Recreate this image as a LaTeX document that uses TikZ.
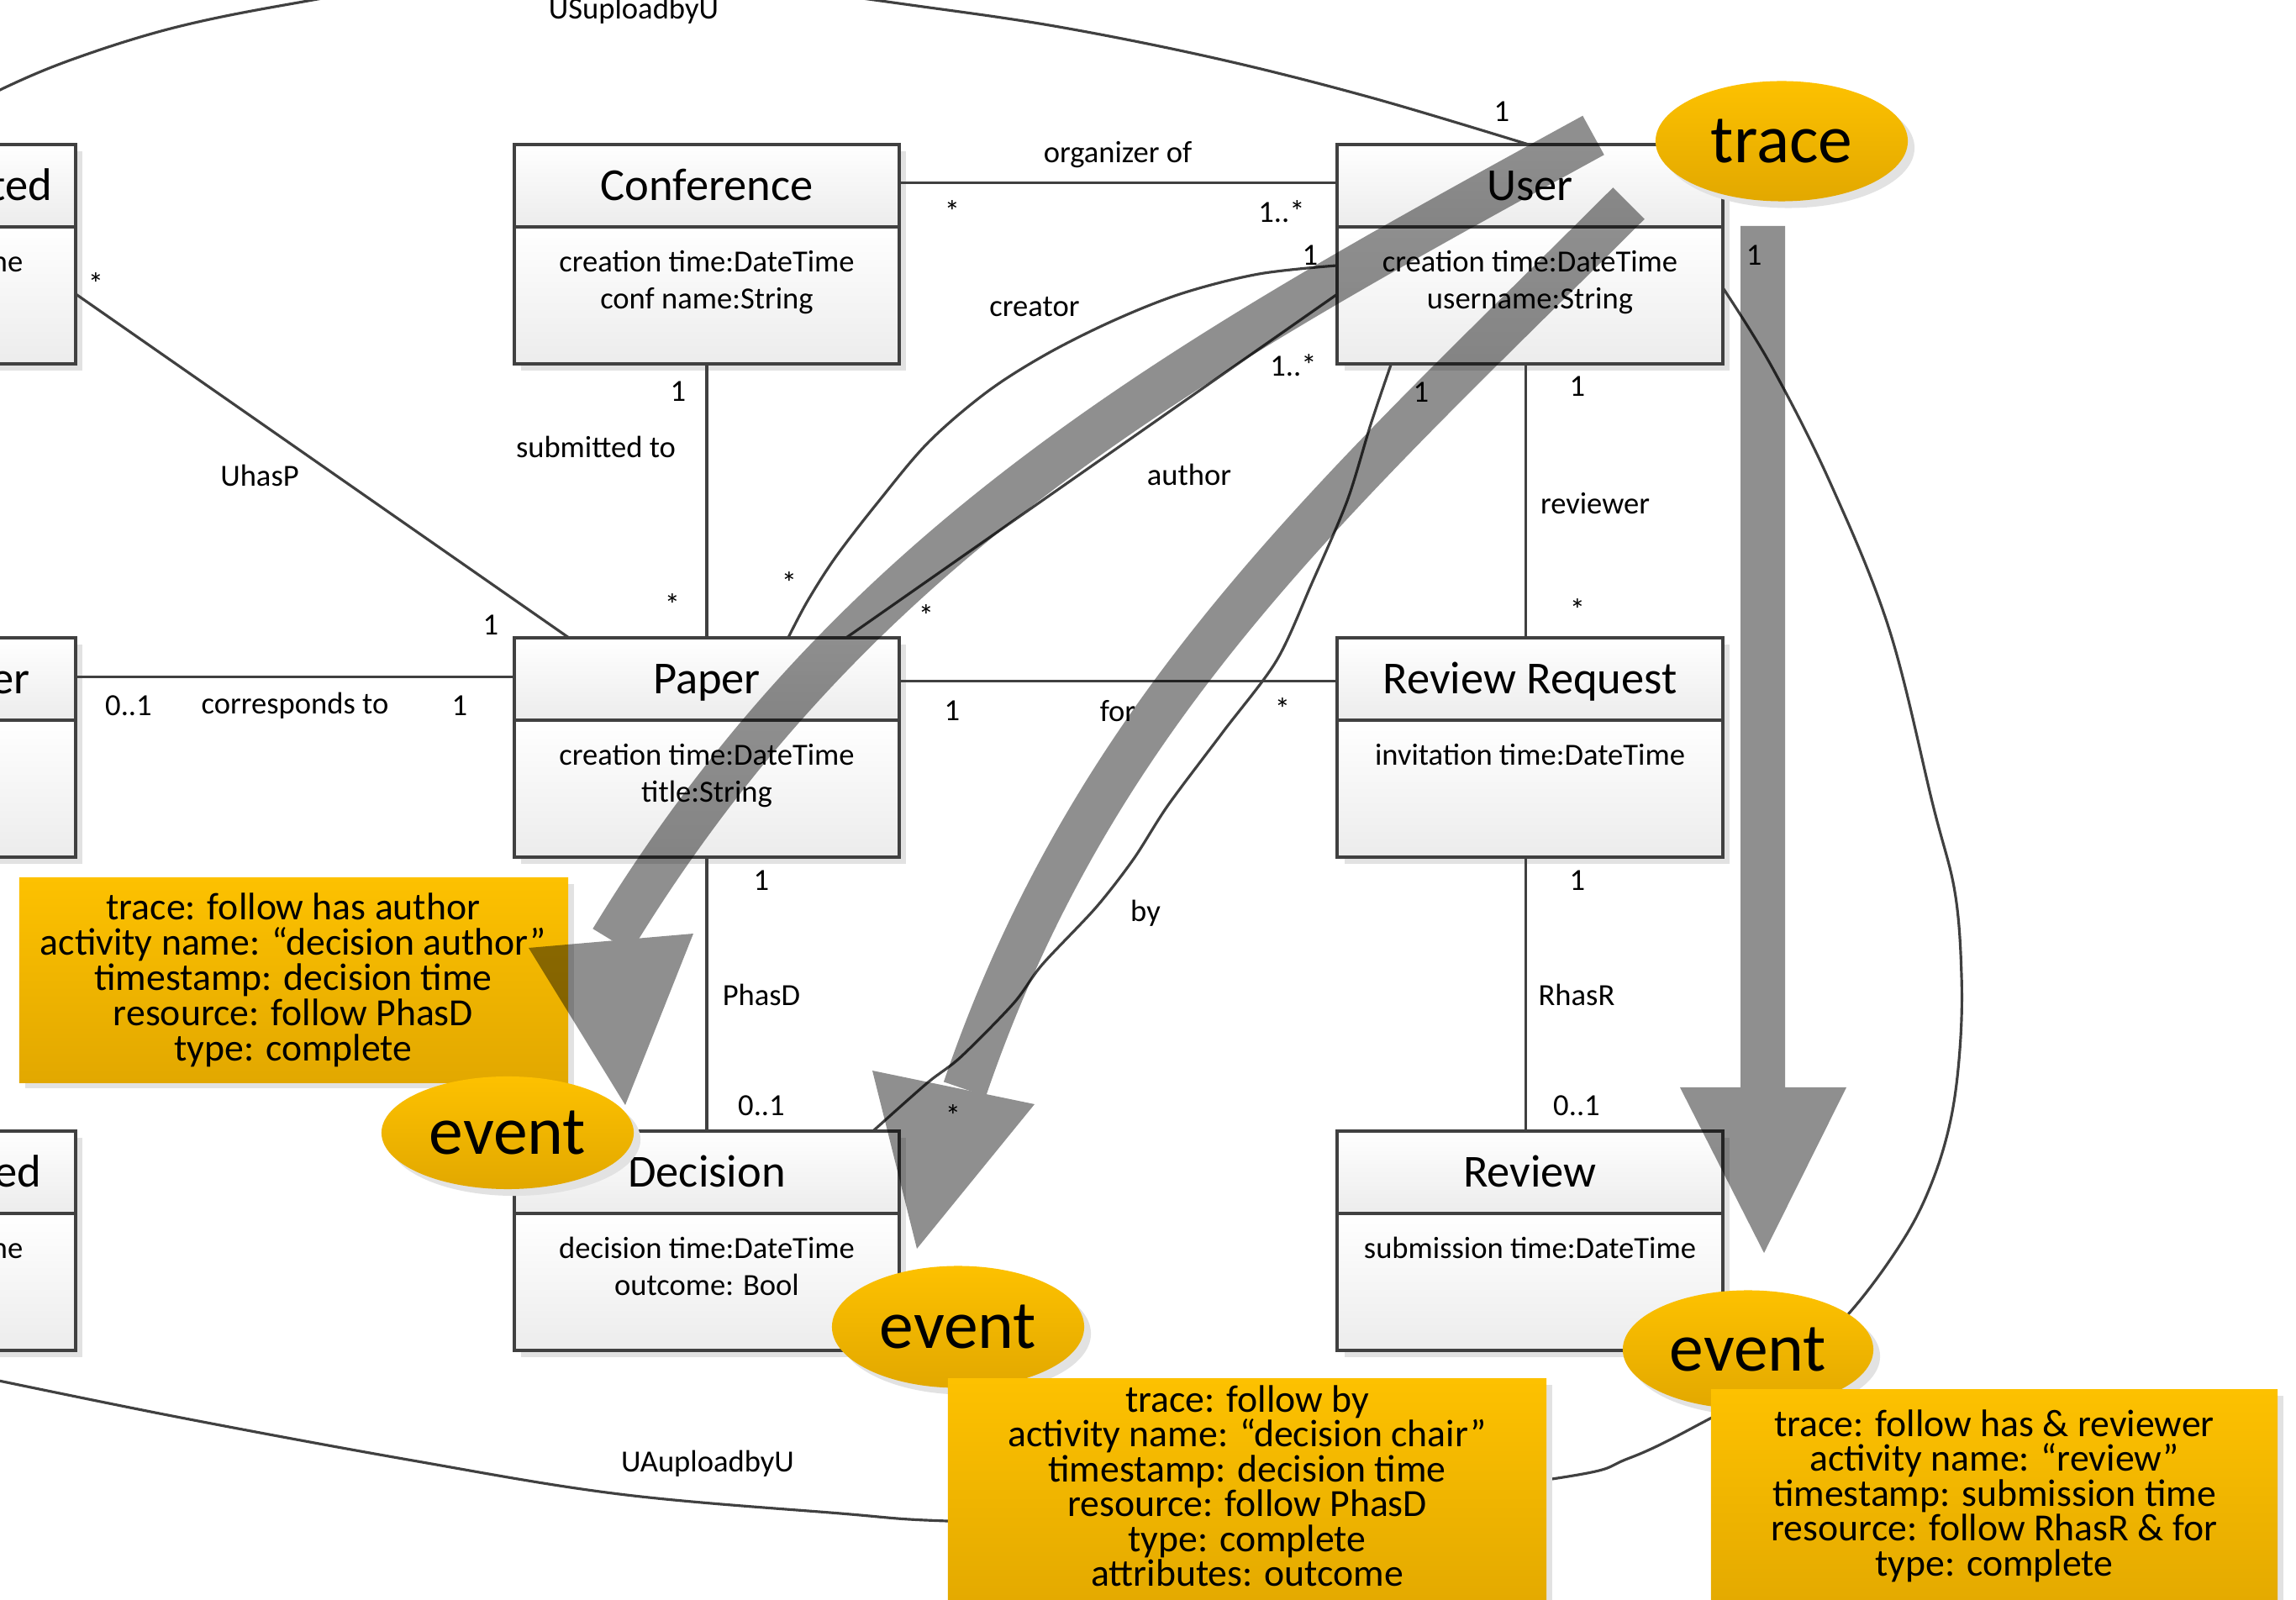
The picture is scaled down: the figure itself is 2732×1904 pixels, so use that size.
\documentclass[tikz,border=0pt]{standalone}
\usepackage{fontspec}
\setmainfont{Carlito}
\usetikzlibrary{shapes.geometric,calc}

\definecolor{linegray}{RGB}{64,64,64}
\definecolor{boxbottom}{RGB}{236,236,236}
\definecolor{shadowgray}{RGB}{226,226,226}
\definecolor{goldtop}{RGB}{253,193,0}
\definecolor{goldbottom}{RGB}{226,168,0}

\tikzset{
  conn/.style={draw=linegray, line width=0.9pt, line join=round},
  boxline/.style={draw=linegray, line width=1.1pt},
  classframe/.style={draw=linegray, line width=1.1pt, minimum width=4.58cm,
    minimum height=2.61cm, inner sep=0pt, outer sep=0pt},
  titlefont/.style={font=\fontsize{15.5pt}{18pt}\selectfont, inner sep=0pt},
  attrfont/.style={font=\fontsize{10.4pt}{12.5pt}\selectfont, inner sep=0pt},
  lbl/.style={font=\fontsize{10.4pt}{12.5pt}\selectfont, inner sep=0pt},
  notefont/.style={font=\fontsize{13pt}{12pt}\selectfont, inner sep=0pt},
  goldfill/.style={top color=goldtop, bottom color=goldbottom},
  eventshape/.style={ellipse, inner sep=0pt, goldfill,
    font=\fontsize{23.2pt}{26pt}\selectfont},
  eventshadow/.style={ellipse, inner sep=0pt, fill=shadowgray},
  notebox/.style={inner sep=0pt, outer sep=0pt, goldfill},
  band/.style={line width=0.53cm, draw=black},
}

% UML class: name, centre x, top y, title, attribute lines
\newcommand\umlbox[5]{%
  \fill[shadowgray] (#2-221,#3+8) rectangle (#2+237,#3+269);
  \shade[top color=white,bottom color=boxbottom] (#2-229,#3) rectangle (#2+229,#3+98);
  \shade[top color=white,bottom color=boxbottom] (#2-229,#3+98) rectangle (#2+229,#3+261);
  \node[classframe] (#1) at (#2,#3+130.5) {};
  \draw[boxline] (#1.north west) ++(0,98) -- ++(458,0);
  \node[titlefont, anchor=base] (#1-title) at (#2,#3+67) {#4};
  \foreach \a [count=\i] in {#5} {\node[attrfont, anchor=base] (#1-a\i) at (#2,#3+108+44*\i) {\a};}
}

% event / trace ellipse: name, x, y, width, height, text
\newcommand\goldellipse[6]{%
  \node[eventshadow, minimum width=#4cm, minimum height=#5cm] (#1-sh) at (#2+8,#3+8) {};
  \node[eventshape, minimum width=#4cm, minimum height=#5cm] (#1) at (#2,#3) {#6};
}

\begin{document}
\begin{tikzpicture}[x=0.01cm, y=-0.01cm]
\useasboundingbox (0,0) rectangle (2732,1904);
\clip (0,0) rectangle (2732,1904);
\fill[white] (0,0) rectangle (2732,1904);

% ---------- classes ----------
\umlbox{tl}{-139}{172}{}{}
\umlbox{ml}{-139}{759}{}{}
\umlbox{bl}{-139}{1346}{}{}
\umlbox{conf}{841}{172}{Conference}{creation time:DateTime, conf name:String}
\umlbox{user}{1820.5}{172}{User}{creation time:DateTime, username:String}
\umlbox{paper}{841}{759}{Paper}{creation time:DateTime, title:String}
\umlbox{rr}{1820.5}{759}{Review Request}{invitation time:DateTime}
\umlbox{decision}{841}{1346}{Decision}{decision time:DateTime, outcome: Bool}
\umlbox{review}{1820.5}{1346}{Review}{submission time:DateTime}

\node[titlefont, anchor=base east] (tl-name) at (63,239) {ted};
\node[attrfont, anchor=base east] (tl-attr) at (28,324) {me};
\node[titlefont, anchor=base east] (ml-name) at (36,826) {er};
\node[titlefont, anchor=base east] (bl-name) at (50,1413) {ed};
\node[attrfont, anchor=base east] (bl-attr) at (28,1498) {me};

% ---------- associations ----------
\draw[conn] ($(conf.north east)+(0,46)$) -- ($(user.north west)+(0,46)$);
\draw[conn] (conf.south) -- (paper.north);
\draw[conn] (paper.south) -- (decision.north);
\draw[conn] ($(user.south)+(-5,0)$) -- ($(rr.north)+(-5,0)$);
\draw[conn] ($(rr.south)+(-5,0)$) -- ($(review.north)+(-5,0)$);
\draw[conn] ($(ml.north east)+(0,47)$) -- ($(paper.north west)+(0,47)$);
\draw[conn] ($(paper.north east)+(0,52)$) -- ($(rr.north west)+(0,52)$);
\draw[conn] ($(tl.north east)+(0,178)$) -- ($(paper.north west)+(65,0)$);
\draw[conn] ($(user.north west)+(0,178)$) -- ($(paper.north west)+(395,0)$);

\coordinate (cr0) at ($(user.north west)+(0,144)$);
\coordinate (cr1) at ($(paper.north west)+(326,0)$);
\draw[conn] plot[smooth, tension=0.55] coordinates {(cr0) (1498,326) (1407,349) (1326,381)
  (1246,421) (1175,466) (1105,526) (1046,596) (995,662) (961,715) (cr1)};

\coordinate (by0) at ($(user.south west)+(64,0)$);
\coordinate (by1) at ($(decision.north west)+(427,0)$);
\draw[conn] plot[smooth, tension=0.5] coordinates {(by0) (1631,505) (1603,596) (1561,694)
  (1519,786) (1456,870) (1390,958) (1349,1022) (1304,1080) (1240,1148) (1206,1194)
  (1143,1258) (1103,1289) (by1)};

\coordinate (us1) at ($(user.north)+(-2,0)$);
\coordinate (us0) at (-80,150);
\draw[conn] plot[smooth, tension=0.6] coordinates {(us0) (0,107) (88,70) (207,33) (344,5)
  (520,-22) (720,-32) (920,-15) (1091,7) (1260,32) (1449,70) (1631,116) (us1)};

\coordinate (ua0) at ($(user.north east)+(0,170)$);
\coordinate (ua1) at (-40,1635);
\draw[conn] plot[smooth, tension=0.6] coordinates {(ua0) (2108,436) (2178,575) (2248,749)
  (2300,958) (2326,1061) (2334,1161) (2332,1249) (2321,1333) (2298,1409) (2263,1478)
  (2200,1563) (2120,1640) (2033,1689) (1939,1735) (1840,1761) (1400,1815) (1127,1810)
  (1000,1801) (737,1778) (491,1738) (210,1686) (ua1)};

% ---------- association labels ----------
\node[lbl] (l-org) at (1330,184) {organizer of};
\node[lbl] (l-org1) at (1133,252) {*};
\node[lbl] (l-org2) at (1525,252) {1..*};
\node[lbl] (l-cre) at (1231,365) {creator};
\node[lbl] (l-cre1) at (1559,304) {1};
\node[lbl] (l-cre2) at (939,694) {*};
\node[lbl] (l-aut) at (1415,565) {author};
\node[lbl] (l-aut1) at (1539,435) {1..*};
\node[lbl] (l-aut2) at (1102,733) {*};
\node[lbl] (l-by) at (1363,1087) {by};
\node[lbl] (l-by1) at (1691,467) {1};
\node[lbl] (l-by2) at (1134,1328) {*};
\node[lbl] (l-rev) at (1898,599) {reviewer};
\node[lbl] (l-rev1) at (1877,460) {1};
\node[lbl] (l-rev2) at (1877,726) {*};
\node[lbl] (l-sub) at (709,532) {submitted to};
\node[lbl] (l-sub1) at (807,466) {1};
\node[lbl] (l-sub2) at (800,720) {*};
\node[lbl] (l-uhp) at (309,566) {UhasP};
\node[lbl] (l-uhp1) at (114,338) {*};
\node[lbl] (l-uhp2) at (584,744) {1};
\node[lbl] (l-cor) at (351,840) {corresponds to};
\node[lbl] (l-cor1) at (153,840) {0..1};
\node[lbl] (l-cor2) at (547,840) {1};
\node[lbl] (l-for) at (1330,846) {for};
\node[lbl] (l-for1) at (1133,846) {1};
\node[lbl] (l-for2) at (1526,844) {*};
\node[lbl] (l-phd) at (906,1184) {PhasD};
\node[lbl] (l-phd1) at (906,1048) {1};
\node[lbl] (l-phd2) at (906,1316) {0..1};
\node[lbl] (l-rhr) at (1876,1184) {RhasR};
\node[lbl] (l-rhr1) at (1877,1048) {1};
\node[lbl] (l-rhr2) at (1876,1316) {0..1};
\node[lbl] (l-us) at (754,13) {USuploadbyU};
\node[lbl] (l-us1) at (1787,133) {1};
\node[lbl] (l-ua) at (842,1742) {UAuploadbyU};
\node[lbl] (l-ua1) at (2087,304) {1};

% ---------- first note ----------
\fill[shadowgray] (30,1052) rectangle (683,1295);
\node[notebox, minimum width=6.53cm, minimum height=2.43cm] (n1) at (349.5,1166.5) {};
\foreach \l [count=\i] in {{trace: follow has author},{activity name: “decision author”},
  {timestamp: decision time},{resource: follow PhasD},{type: complete}}
  {\node[notefont, anchor=base] (n1-\i) at (349,1053+42*\i) {\l};}

% ---------- trace arrows ----------
\begin{scope}[transparency group, opacity=0.44]
  \draw[band] (1896,161) .. controls (1407,429) and (1018,642) .. (728,1119);
  \fill[black] (629,1128) -- (825,1111) -- (744,1315) -- cycle;
\end{scope}
\begin{scope}[transparency group, opacity=0.44]
  \draw[band] (1938,242) .. controls (1594,586) and (1305,836) .. (1148,1296);
  \fill[black] (1038,1274) -- (1231,1314) -- (1091,1486) -- cycle;
\end{scope}
\fill[black, opacity=0.44] (2071,269) -- (2124,269) -- (2124,1294) -- (2197,1294)
  -- (2099,1491) -- (1999,1294) -- (2071,1294) -- cycle;

% ---------- trace and events ----------
\goldellipse{trace}{2120}{168}{3.0}{1.43}{trace}
\goldellipse{ev1}{604}{1348}{3.0}{1.34}{event}
\goldellipse{ev2}{1140}{1579}{3.0}{1.45}{event}
\goldellipse{ev3}{2080}{1606}{2.98}{1.41}{event}

% ---------- second and third notes ----------
\fill[shadowgray] (1135,1648) rectangle (1847,1930);
\node[notebox, minimum width=7.12cm, minimum height=2.85cm] (n2) at (1484,1783.5) {};
\foreach \l [count=\i] in {{trace: follow by},{activity name: “decision chair”},
  {timestamp: decision time},{resource: follow PhasD},{type: complete},{attributes: outcome}}
  {\node[notefont, anchor=base] (n2-\i) at (1484,1638.5+41.5*\i) {\l};}

\fill[shadowgray] (2043,1661) rectangle (2717,1930);
\node[notebox, minimum width=6.74cm, minimum height=2.72cm] (n3) at (2373,1790) {};
\foreach \l [count=\i] in {{trace: follow has \& reviewer},{activity name: “review”},
  {timestamp: submission time},{resource: follow RhasR \& for},{type: complete}}
  {\node[notefont, anchor=base] (n3-\i) at (2373,1667.5+41.5*\i) {\l};}
\end{tikzpicture}
\end{document}
